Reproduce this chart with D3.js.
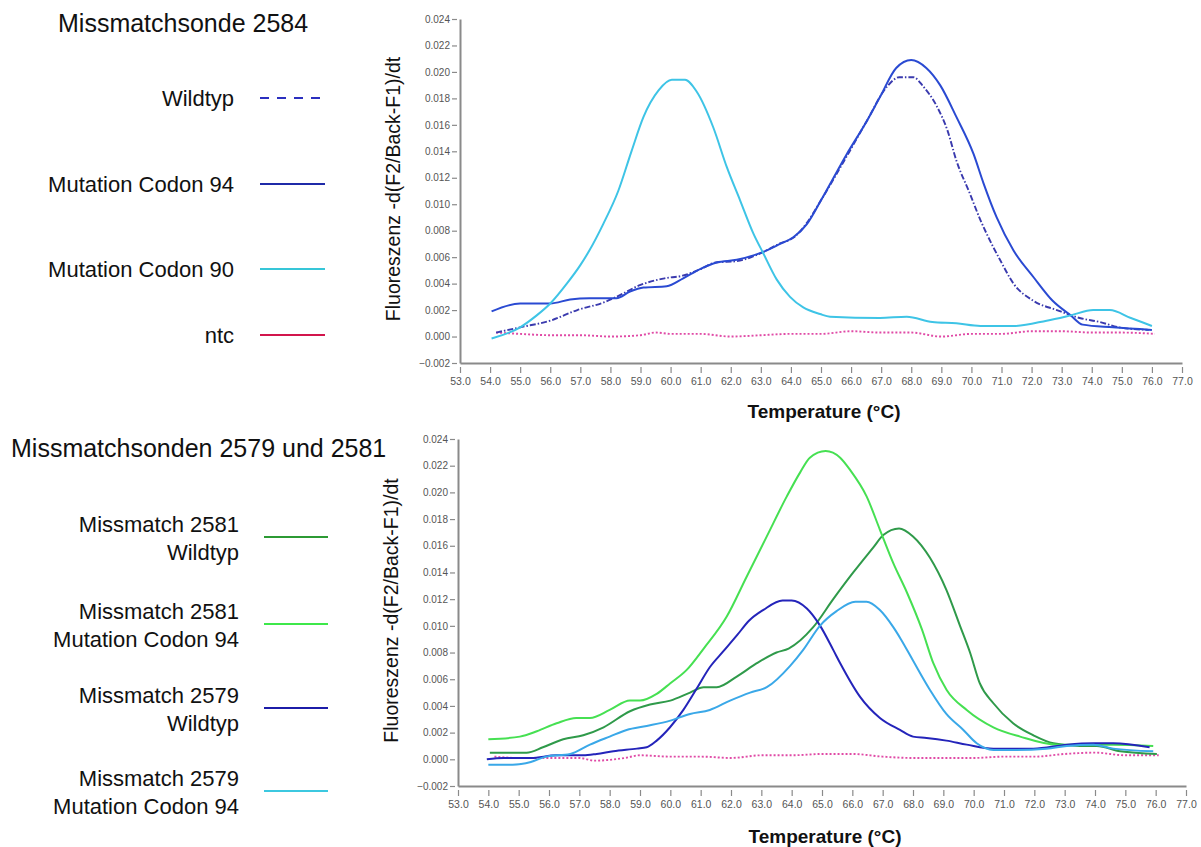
<!DOCTYPE html>
<html>
<head>
<meta charset="utf-8">
<script src="https://cdn.jsdelivr.net/npm/d3@7/dist/d3.min.js"></script>
<style>
  html, body { margin: 0; padding: 0; background: #fff; }
  svg { display: block; font-family: "Liberation Sans", Arial, sans-serif; }
</style>
</head>
<body>
<svg id="chart" width="1201" height="847"></svg>
<script>
// ---- Melting-curve data: [temperature °C, -d(F2/Back-F1)/dt] ----

// Missmatchsonde 2584
const wildtyp2584 = [
  [54.2, 0.0003], [55.0, 0.0007], [56.0, 0.0012], [56.9, 0.0020], [57.8, 0.0026],
  [58.2, 0.0030], [59.0, 0.0039], [59.8, 0.0044], [60.4, 0.0046], [61.0, 0.0051],
  [61.5, 0.0056], [62.2, 0.0057], [63.0, 0.0063], [63.6, 0.0070], [64.1, 0.0075],
  [64.5, 0.0085], [65.0, 0.0103], [65.9, 0.0138], [66.5, 0.0162], [67.2, 0.0189],
  [67.6, 0.0196], [68.07, 0.0196], [68.4, 0.0189], [68.85, 0.0174], [69.2, 0.0156],
  [69.5, 0.0133], [69.95, 0.0108], [70.3, 0.0088], [70.5, 0.0078], [70.95, 0.0058],
  [71.4, 0.0040], [72.06, 0.0027], [72.84, 0.0020], [73.6, 0.0014], [74.27, 0.0011],
  [74.9, 0.0007], [75.9, 0.0005]
];
const codon94_2584 = [
  [54.05, 0.0019], [55.0, 0.0025], [56.0, 0.0025], [56.66, 0.0028], [57.3, 0.0029],
  [58.2, 0.0029], [58.65, 0.0034], [59.1, 0.0037], [59.87, 0.0038], [60.42, 0.0044],
  [60.98, 0.0051], [61.53, 0.0056], [62.2, 0.0058], [62.97, 0.0063], [63.64, 0.0070],
  [64.08, 0.0075], [64.53, 0.0085], [65.0, 0.0103], [65.86, 0.0138], [66.5, 0.0162],
  [66.96, 0.0181], [67.5, 0.0203], [68.0, 0.0209], [68.5, 0.0203], [68.96, 0.0190],
  [69.5, 0.0166], [70.07, 0.0138], [70.4, 0.0116], [70.84, 0.0090], [71.4, 0.0065],
  [72.06, 0.0045], [72.7, 0.0027], [73.3, 0.0016], [73.7, 0.0009], [74.7, 0.0007],
  [76.0, 0.0005]
];
const codon90_2584 = [
  [54.05, -0.00015], [55.0, 0.0007], [55.55, 0.0016], [56.0, 0.0025], [56.55, 0.0040],
  [57.0, 0.0054], [57.3, 0.0065], [57.76, 0.0085], [58.26, 0.0110], [58.7, 0.0140],
  [59.1, 0.0166], [59.6, 0.0186], [60.04, 0.0194], [60.48, 0.0194], [60.87, 0.0185],
  [61.42, 0.0158], [61.87, 0.0128], [62.31, 0.0103], [62.75, 0.0078], [63.08, 0.0063],
  [63.53, 0.0043], [63.97, 0.0030], [64.41, 0.0022], [64.97, 0.0017], [65.3, 0.0015],
  [66.96, 0.0014], [67.85, 0.0015], [68.7, 0.0011], [69.5, 0.0010], [70.3, 0.0008],
  [71.4, 0.0008], [72.5, 0.0012], [73.3, 0.0016], [74.05, 0.0020], [74.6, 0.0020],
  [75.3, 0.0014], [76.0, 0.0008]
];
const ntc2584 = [
  [54.2, 0.0003], [55.0, 0.0002], [56.0, 0.0001], [57.0, 0.0001], [58.0, 0.0000],
  [59.0, 0.0001], [59.5, 0.0003], [60.0, 0.0002], [61.0, 0.0002], [62.0, 0.0000],
  [63.0, 0.0001], [64.0, 0.0002], [65.0, 0.0002], [66.0, 0.0004], [67.0, 0.0003],
  [68.0, 0.0003], [69.0, 0.0000], [70.0, 0.0002], [71.0, 0.0002], [72.0, 0.0004],
  [73.0, 0.0004], [74.0, 0.0003], [75.0, 0.0003], [76.1, 0.0002]
];

// Missmatchsonden 2579 und 2581
const wildtyp2581 = [
  [54.05, 0.0005], [55.26, 0.0005], [55.8, 0.0009], [56.47, 0.0015], [57.13, 0.0018],
  [57.8, 0.0024], [58.67, 0.0036], [59.33, 0.0041], [60.0, 0.0044], [60.65, 0.0050],
  [61.1, 0.0054], [61.53, 0.0054], [62.19, 0.0062], [62.85, 0.0072], [63.5, 0.0080],
  [63.9, 0.0083], [64.71, 0.0099], [65.37, 0.0120], [66.03, 0.0140], [66.7, 0.0159],
  [67.02, 0.0168], [67.54, 0.0173], [68.0, 0.0167], [68.56, 0.0151], [69.1, 0.0127],
  [69.55, 0.0100], [69.88, 0.0080], [70.2, 0.0057], [70.65, 0.0042], [71.3, 0.0027],
  [71.97, 0.0018], [72.63, 0.0012], [73.5, 0.0010], [74.06, 0.0010], [74.83, 0.0006],
  [76.04, 0.0004]
];
const codon94_2581 = [
  [54.0, 0.0015], [55.04, 0.0017], [55.6, 0.0021], [56.25, 0.0027], [56.9, 0.0031],
  [57.35, 0.0031], [58.0, 0.0037], [58.67, 0.0044], [59.0, 0.0044], [59.55, 0.0049],
  [60.0, 0.0057], [60.54, 0.0067], [61.1, 0.0083], [61.86, 0.0107], [62.52, 0.0137],
  [63.18, 0.0167], [63.84, 0.0197], [64.28, 0.0215], [64.6, 0.0226], [65.12, 0.0231],
  [65.6, 0.0226], [65.92, 0.0217], [66.47, 0.0197], [66.91, 0.0172], [67.35, 0.0147],
  [67.8, 0.0125], [68.3, 0.0097], [68.67, 0.0072], [69.11, 0.0052], [69.77, 0.0037],
  [70.65, 0.0024], [71.53, 0.0017], [72.74, 0.0011], [73.73, 0.0011], [74.6, 0.0011],
  [75.92, 0.0010]
];
const wildtyp2579 = [
  [53.95, 0.0000], [54.5, 0.0001], [55.4, 0.0001], [56.25, 0.0003], [57.13, 0.0003],
  [57.57, 0.0004], [58.12, 0.0006], [58.9, 0.0008], [59.22, 0.0009], [59.55, 0.0014],
  [59.99, 0.0024], [60.43, 0.0037], [60.87, 0.0053], [61.3, 0.0069], [61.75, 0.0081],
  [62.2, 0.0093], [62.6, 0.0104], [63.07, 0.0112], [63.7, 0.0119], [64.0, 0.0119],
  [64.5, 0.0113], [64.94, 0.0100], [65.37, 0.0082], [65.6, 0.0072], [66.25, 0.0047],
  [66.91, 0.0031], [67.57, 0.0022], [68.0, 0.0017], [68.45, 0.0016], [69.1, 0.0014],
  [69.77, 0.0011], [70.65, 0.0008], [71.97, 0.0008], [73.07, 0.0011], [73.95, 0.0012],
  [74.6, 0.0012], [75.8, 0.0009]
];
const codon94_2579 = [
  [54.0, -0.0004], [54.8, -0.0004], [55.4, -0.0002], [55.9, 0.0002], [56.7, 0.0004],
  [57.35, 0.0011], [58.0, 0.0017], [58.56, 0.0022], [59.22, 0.0025], [60.0, 0.0029],
  [60.65, 0.0034], [61.3, 0.0037], [61.97, 0.0044], [62.63, 0.0050], [63.18, 0.0054],
  [63.95, 0.0070], [64.38, 0.0082], [64.93, 0.0100], [65.48, 0.0111], [66.1, 0.0118],
  [66.47, 0.0118], [66.9, 0.0112], [67.35, 0.0099], [67.6, 0.0090], [68.0, 0.0074],
  [68.56, 0.0052], [69.1, 0.0034], [69.66, 0.0022], [70.1, 0.0012], [70.65, 0.0007],
  [71.3, 0.0007], [72.4, 0.0008], [73.07, 0.0010], [73.95, 0.0011], [74.6, 0.0008],
  [75.92, 0.0006]
];
const ntc2579 = [
  [54.2, 0.0002], [55.0, 0.0001], [56.0, 0.0001], [57.0, 0.0001], [57.5, -0.0001],
  [58.5, 0.0001], [59.0, 0.0003], [60.0, 0.0002], [61.0, 0.0002], [62.0, 0.0001],
  [63.0, 0.0003], [64.0, 0.0003], [65.0, 0.0004], [66.0, 0.0004], [67.0, 0.0002],
  [68.0, 0.0001], [69.0, 0.0001], [70.0, 0.0001], [71.0, 0.0002], [72.0, 0.0002],
  [73.0, 0.0004], [74.0, 0.0005], [75.0, 0.0003], [76.1, 0.0003]
];

// Axis ticks
const xTicks = d3.range(53, 77.5, 1);
const yTicks = d3.range(-0.002, 0.0245, 0.002);
const xDomain = [53, 77];
const yDomain = [-0.002, 0.024];

const yTitle = "Fluoreszenz -d(F2/Back-F1)/dt";
const xTitle = "Temperature (\u00B0C)";

// ---- Panels ----
const panels = [
  {
    title: "Missmatchsonde 2584", titleX: 58, titleY: 32,
    left: 460, right: 1182, top: 19, bottom: 363,
    xTitleY: 418, yTitleX: 400,
    legendTextRight: 234, legendLineX: [260, 325],
    series: [
      { data: wildtyp2584, color: "#3a3aae", legendColor: "#2b2fbf", dash: "6,2,1.5,2", legendDash: "9,8",
        label: ["Wildtyp"], rowY: 98 },
      { data: codon94_2584, color: "#2a4ad2", legendColor: "#1f2aa8", dash: null,
        label: ["Mutation Codon 94"], rowY: 184 },
      { data: codon90_2584, color: "#3ec4e6", legendColor: "#36c6d8", dash: null,
        label: ["Mutation Codon 90"], rowY: 269 },
      { data: ntc2584, color: "#e04aa6", legendColor: "#d2154c", dash: "2,2",
        label: ["ntc"], rowY: 335 }
    ]
  },
  {
    title: "Missmatchsonden 2579 und 2581", titleX: 11, titleY: 457,
    left: 458, right: 1186, top: 439, bottom: 786,
    xTitleY: 843, yTitleX: 398,
    legendTextRight: 239, legendLineX: [264, 328],
    series: [
      { data: wildtyp2581, color: "#2f9a4a", legendColor: "#2c9a34", dash: null,
        label: ["Missmatch 2581", "Wildtyp"], rowY: 537 },
      { data: codon94_2581, color: "#46e052", legendColor: "#3de84a", dash: null,
        label: ["Missmatch 2581", "Mutation Codon 94"], rowY: 624 },
      { data: wildtyp2579, color: "#2424ba", legendColor: "#1c1ca8", dash: null,
        label: ["Missmatch 2579", "Wildtyp"], rowY: 708 },
      { data: codon94_2579, color: "#3aa8e8", legendColor: "#3cc8e0", dash: null,
        label: ["Missmatch 2579", "Mutation Codon 94"], rowY: 791 },
      { data: ntc2579, color: "#e04aa6", dash: "2,2", label: null }
    ]
  }
];

const svg = d3.select("#chart");
const axisColor = "#8a8a8a";
const tickTextColor = "#555";

panels.forEach(p => {
  const g = svg.append("g");
  const x = d3.scaleLinear().domain(xDomain).range([p.left, p.right]);
  const y = d3.scaleLinear().domain(yDomain).range([p.bottom, p.top]);

  // x axis
  const xAxis = g.append("g")
    .attr("transform", `translate(0,${p.bottom})`)
    .call(d3.axisBottom(x).tickValues(xTicks).tickFormat(d3.format(".1f")).tickSize(0).tickPadding(15));
  xAxis.select(".domain").attr("stroke", axisColor).attr("stroke-width", 2);
  xAxis.selectAll(".tick line").remove();
  xAxis.selectAll(".tick").append("line")
    .attr("y1", 4).attr("y2", 10).attr("stroke", axisColor).attr("stroke-width", 1.2);
  xAxis.selectAll(".tick text")
    .attr("fill", tickTextColor).style("font-size", "10.5px");

  // y axis
  const yAxis = g.append("g")
    .attr("transform", `translate(${p.left},0)`)
    .call(d3.axisLeft(y).tickValues(yTicks).tickFormat(d3.format(".3f")).tickSize(0).tickPadding(10));
  yAxis.select(".domain").attr("stroke", axisColor).attr("stroke-width", 2);
  yAxis.selectAll(".tick line").remove();
  yAxis.selectAll(".tick").append("line")
    .attr("x1", -8).attr("x2", -3).attr("stroke", axisColor).attr("stroke-width", 1.2);
  yAxis.selectAll(".tick text")
    .attr("fill", tickTextColor).style("font-size", "10px");

  // axis titles
  g.append("text")
    .attr("x", (x(53) + x(77)) / 2 + 3).attr("y", p.xTitleY)
    .attr("text-anchor", "middle")
    .style("font-size", "19px").style("font-weight", "bold").attr("fill", "#111")
    .text(xTitle);
  g.append("text")
    .attr("transform", `translate(${p.yTitleX},${(p.top + p.bottom) / 2 - 2}) rotate(-90)`)
    .attr("text-anchor", "middle")
    .style("font-size", "19.5px").attr("fill", "#111")
    .text(yTitle);

  // curves
  const line = d3.line()
    .x(d => x(d[0])).y(d => y(d[1]))
    .curve(d3.curveMonotoneX);
  // ntc drawn first so the other curves sit on top of it
  const order = p.series.slice().sort((a, b) => (b.dash === "2,2") - (a.dash === "2,2"));
  order.forEach(s => {
    g.append("path")
      .datum(s.data)
      .attr("d", line)
      .attr("fill", "none")
      .attr("stroke", s.color)
      .attr("stroke-width", s.dash ? 1.9 : 2)
      .attr("stroke-linejoin", "round")
      .attr("stroke-dasharray", s.dash);
  });

  // panel title
  g.append("text")
    .attr("x", p.titleX).attr("y", p.titleY)
    .style("font-size", "25px").attr("fill", "#111")
    .text(p.title);

  // legend
  p.series.filter(s => s.label).forEach(s => {
    const first = s.label.length === 1 ? s.rowY + 8 : s.rowY - 5;
    s.label.forEach((t, i) => {
      g.append("text")
        .attr("x", p.legendTextRight).attr("y", first + i * 27.5)
        .attr("text-anchor", "end")
        .style("font-size", "22px").attr("fill", "#111")
        .text(t);
    });
    g.append("line")
      .attr("x1", p.legendLineX[0]).attr("x2", p.legendLineX[1])
      .attr("y1", s.rowY).attr("y2", s.rowY)
      .attr("stroke", s.legendColor || s.color)
      .attr("stroke-width", 2.2)
      .attr("stroke-dasharray", s.legendDash || null);
  });
});
</script>
</body>
</html>
